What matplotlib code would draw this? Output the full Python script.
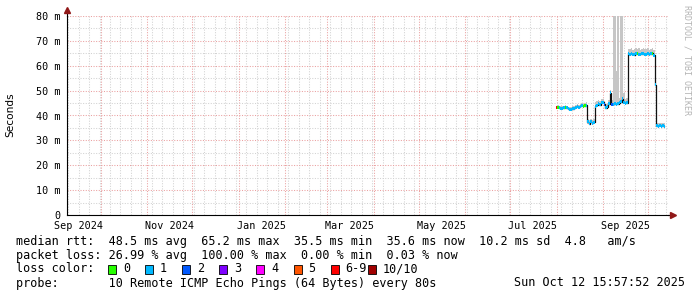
import pandas as pd
import matplotlib
matplotlib.use("Agg")
import matplotlib.pyplot as plt
import matplotlib.dates as mdates
from matplotlib.ticker import MultipleLocator, NullFormatter
from matplotlib.transforms import blended_transform_factory

# one value per day, starting 2025-08-01 (median rtt in ms)
start_day = "2025-08-01"
median_ms = [43.3, 43.4, 43.1, 43.0, 42.9, 43.1, 43.4, 43.2, 42.7, 42.6,
             42.6, 42.8, 43.0, 43.3, 43.7, 43.4, 43.8, 44.1, 43.8, 44.0,
             44.2, 37.4, 36.7, 37.5, 36.8, 37.2, 43.8, 44.2, 44.7, 44.4,
             45.1, 45.3, 44.5, 43.1, 43.6, 44.7, 49.2, 44.6, 44.6, 44.8,
             44.5, 44.8, 45.2, 45.6, 46.8, 45.4, 45.0, 45.2, 64.8, 64.6,
             64.9, 64.7, 64.5, 64.8, 65.0, 64.7, 64.6, 64.8, 64.9, 64.6,
             64.7, 64.8, 64.6, 64.9, 65.1, 64.2, 52.3, 35.9, 35.6, 36.0,
             35.7, 35.8, 35.6]
# lost pings out of 10
loss_pings = [7, 0, 1, 1, 1, 1, 0, 1, 1, 1,
              1, 1, 1, 1, 1, 1, 1, 1, 0, 0,
              1, 1, 1, 1, 1, 1, 1, 1, 1, 1,
              1, 1, 2, 1, 1, 1, 1, 2, 1, 1,
              1, 1, 1, 1, 1, 1, 1, 1, 1, 1,
              1, 1, 1, 1, 0, 1, 1, 1, 1, 1,
              1, 1, 1, 1, 0, 1, 1, 1, 1, 1,
              1, 1, 1]
# smoke: lowest / highest ping of each day (ms)
smoke_low = [42.9, 43.0, 42.7, 42.6, 42.5, 42.7, 43.0, 42.8, 42.3, 42.2,
             42.2, 42.4, 42.6, 42.9, 43.3, 43.0, 43.4, 43.7, 43.4, 43.6,
             43.8, 36.6, 36.2, 36.8, 36.3, 36.6, 43.3, 43.7, 44.2, 43.9,
             44.6, 44.8, 44.0, 42.6, 43.1, 44.2, 44.5, 44.1, 44.1, 44.3,
             44.0, 44.3, 44.7, 45.1, 45.3, 44.9, 44.5, 44.7, 64.2, 64.1,
             64.3, 64.2, 64.0, 64.2, 64.4, 64.1, 64.1, 64.2, 64.3, 64.1,
             64.2, 64.2, 64.1, 64.3, 64.5, 63.6, 51.8, 35.3, 35.1, 35.4,
             35.2, 35.3, 35.1]
smoke_high = [44.0, 44.1, 43.9, 43.8, 43.7, 43.9, 44.2, 44.0, 43.5, 43.4,
              43.5, 43.7, 43.9, 44.2, 44.6, 44.3, 44.8, 45.1, 44.8, 45.0,
              45.3, 38.6, 38.1, 38.7, 38.0, 38.4, 45.4, 45.8, 46.2, 46.0,
              46.6, 46.8, 46.0, 44.6, 45.0, 46.3, 50.2, 46.4, 120.0, 120.0,
              58.0, 120.0, 47.0, 120.0, 120.0, 49.0, 46.8, 47.0, 66.6, 66.8,
              67.1, 66.5, 66.9, 67.2, 66.7, 67.0, 66.4, 66.9, 67.1, 66.6,
              66.8, 67.0, 66.5, 66.9, 67.2, 66.3, 53.0, 37.0, 36.8, 37.1,
              36.9, 37.0, 36.8]

loss_labels = ["0", "1", "2", "3", "4", "5", "6-9", "10/10"]
loss_colors = ["#26ff00", "#00b8ff", "#0059ff", "#7e00ff",
               "#ff00ff", "#ff5500", "#ff0000", "#a10000"]

month_labels = ["Sep 2024", "Nov 2024", "Jan 2025", "Mar 2025",
                "May 2025", "Jul 2025", "Sep 2025"]
y_ticks = [0, 10, 20, 30, 40, 50, 60, 70, 80]

rtt_line = "median rtt:  48.5 ms avg  65.2 ms max  35.5 ms min  35.6 ms now  10.2 ms sd  4.8   am/s"
loss_line = "packet loss: 26.99 % avg  100.00 % max  0.00 % min  0.03 % now"
probe_line = "probe:       10 Remote ICMP Echo Pings (64 Bytes) every 80s"
stamp = "Sun Oct 12 15:57:52 2025"

MONO = "DejaVu Sans Mono"
W, H = 697, 297

def loss_class(n):
    if n <= 5:
        return n
    if n < 10:
        return 6
    return 7

days = pd.date_range(start_day, periods=len(median_ms), freq="D")
x = mdates.date2num(days.to_pydatetime())

fig = plt.figure(figsize=(W / 100, H / 100), dpi=100)
ax = fig.add_axes([67 / W, 1 - 215 / H, 601 / W, 199 / H])

# smoke
ax.bar(x, [h - l for h, l in zip(smoke_high, smoke_low)], bottom=smoke_low,
       width=1.02, color="#c6c6c6", linewidth=0, zorder=2)
# median line
ax.plot(x, median_ms, drawstyle="steps-mid", color="#111111", lw=0.9, zorder=3)
# loss coloured median band
sw = 0.6
band_colors = [loss_colors[loss_class(n)] for n in loss_pings]
ax.bar(x, 2 * sw, bottom=[m - sw for m in median_ms], width=1.02,
       color=band_colors, linewidth=0, zorder=4)

x0 = mdates.date2num(pd.Timestamp("2024-10-01")) - 22.69
x1 = mdates.date2num(pd.Timestamp("2025-10-01")) + 13.35
ax.set_xlim(x0, x1)
ax.set_ylim(0, 80)

# grid: months / weeks, 10 / 5
ax.xaxis.set_major_locator(mdates.MonthLocator())
ax.xaxis.set_minor_locator(mdates.WeekdayLocator(byweekday=mdates.MO))
ax.xaxis.set_major_formatter(NullFormatter())
ax.xaxis.set_minor_formatter(NullFormatter())
ax.set_yticks(y_ticks)
ax.set_yticklabels(["0" if v == 0 else f"{v} m" for v in y_ticks],
                   family=MONO, fontsize=7.3)
ax.yaxis.set_minor_locator(MultipleLocator(5))
ax.tick_params(which="both", length=0)
ax.tick_params(axis="y", pad=4.5)
ax.grid(True, which="minor", color="#d2d2d2", linestyle=(0, (1, 1.5)), lw=0.75)
ax.grid(True, which="major", color="#eaa0a0", linestyle=(0, (1, 1.5)), lw=0.75)
ax.set_axisbelow(True)

for s in ["top", "right"]:
    ax.spines[s].set_visible(False)
for s in ["left", "bottom"]:
    ax.spines[s].set_linewidth(0.8)
    ax.spines[s].set_zorder(5)

# axis arrows
ax.plot([0, 0], [1, 1.025], transform=ax.transAxes, color="k", lw=0.8, clip_on=False)
ax.plot([0], [1.03], marker="^", ms=4, color="#901818", transform=ax.transAxes, clip_on=False)
ax.plot([1, 1.004], [0, 0], transform=ax.transAxes, color="k", lw=0.8, clip_on=False)
ax.plot([1.0075], [0], marker=">", ms=4, color="#901818", transform=ax.transAxes, clip_on=False)

# month labels, centred half a month after the month start
tr = blended_transform_factory(ax.transData, ax.transAxes)
for lab in month_labels:
    pos = mdates.date2num(pd.Timestamp(lab) + pd.Timedelta(days=15))
    ax.text(pos, -11 / 199, lab, transform=tr, ha="center", va="center",
            family=MONO, fontsize=7.3)

fig.text(10 / W, 1 - 115 / H, "Seconds", rotation=90, ha="center", va="center",
         fontsize=7.6)
fig.text(687 / W, 1 - 5 / H, "RRDTOOL / TOBI OETIKER", rotation=270, ha="center",
         va="top", family=MONO, fontsize=6, color="#b4b4b4")

# legend block
fs = 8.5
fig.text(16 / W, 1 - 241 / H, rtt_line, family=MONO, fontsize=fs, va="center")
fig.text(16 / W, 1 - 255 / H, loss_line, family=MONO, fontsize=fs, va="center")
fig.text(16 / W, 1 - 269 / H, "loss color:", family=MONO, fontsize=fs, va="center")
fig.text(16 / W, 1 - 283 / H, probe_line, family=MONO, fontsize=fs, va="center")
fig.text(685 / W, 1 - 283 / H, stamp, family=MONO, fontsize=fs, va="center", ha="right")

for i, (lab, col) in enumerate(zip(loss_labels, loss_colors)):
    bx = 108 + i * 37.1
    fig.patches.append(plt.Rectangle((bx / W, 1 - 273.5 / H), 8 / W, 8.5 / H,
                                     transform=fig.transFigure, facecolor=col,
                                     edgecolor="k", lw=0.6))
    fig.text((bx + 15) / W, 1 - 269 / H, lab, family=MONO, fontsize=fs, va="center")

fig.savefig("out.png", dpi=100, facecolor="white")
